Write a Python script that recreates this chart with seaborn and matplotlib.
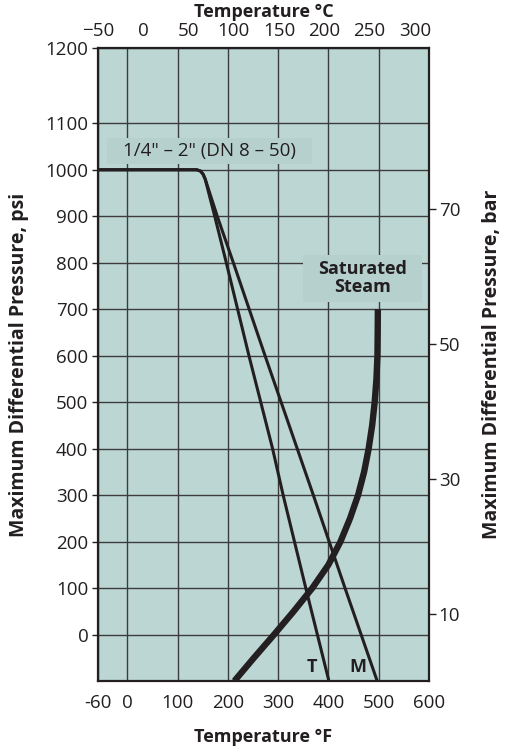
import numpy as np
import pandas as pd
import matplotlib.pyplot as plt
import seaborn as sns
from matplotlib.patches import Rectangle

# axis ticks
temp_f_ticks = [0, 100, 200, 300, 400, 500, 600]
temp_c_ticks = [-50, 0, 50, 100, 150, 200, 250, 300]
psi_ticks = [0, 100, 200, 300, 400, 500, 600, 700, 800, 900, 1000, 1100]
bar_ticks = [10, 30, 50, 70]

# T rating line (deg F, psi)
t_temp = [-58, 138, 146, 151, 155, 174, 197, 242, 289, 310, 355, 378, 401]
t_psi = [1000, 1000, 997, 990, 980, 900, 800, 600, 400, 300, 100, 0, -100]

# M rating line
m_temp = [-58, 138, 146, 151, 155, 179, 211, 274, 338, 370, 433, 465, 497]
m_psi = [1000, 1000, 997, 990, 980, 900, 800, 600, 400, 300, 100, 0, -100]

# saturated steam curve
steam_temp = [213, 252, 292, 331, 368, 400, 424, 443, 459, 471, 480, 487, 492,
              495.5, 497.5, 498, 498.3]
steam_psi = [-100, -50, 0, 50, 100, 150, 200, 250, 300, 350, 400, 450, 500,
             550, 600, 650, 700]

sns.set_theme(style="ticks")
plt.rcParams["font.family"] = ["Open Sans", "DejaVu Sans"]

ink = "#231f20"
box_fc = "#b6d0ce"
fig = plt.figure(figsize=(5.08, 7.46), dpi=100)
fig.subplots_adjust(left=0.193, right=0.8445, bottom=0.0871, top=0.9357)
ax = fig.add_subplot(111)
ax.set_facecolor("#bcd6d4")

sns.lineplot(x=t_temp, y=t_psi, ax=ax, color=ink, lw=2.2, sort=False, estimator=None)
sns.lineplot(x=m_temp, y=m_psi, ax=ax, color=ink, lw=2.2, sort=False, estimator=None)
sns.lineplot(x=steam_temp, y=steam_psi, ax=ax, color=ink, lw=4.6, sort=False,
             estimator=None, solid_capstyle="butt")

ax.set_xlim(-58, 600)
ax.set_ylim(-100, 1262)

ax.set_xticks([-58] + temp_f_ticks)
ax.set_xticklabels(["-60"] + [str(v) for v in temp_f_ticks])
ax.set_yticks(psi_ticks + [1262])
ax.set_yticklabels([str(v) for v in psi_ticks] + ["1200"])

ax.grid(True, color="#3c3c3c", lw=1.0)
ax.set_axisbelow(True)
for s in ax.spines.values():
    s.set_color(ink)
    s.set_linewidth(1.6)

ax.tick_params(axis="x", length=0, labelsize=13.5, pad=9, colors=ink)
ax.tick_params(axis="y", length=4, width=1, labelsize=13.5, pad=3, colors=ink)
ax.set_xlabel("Temperature °F", fontsize=13, fontweight="bold", labelpad=12, color=ink)
ax.set_ylabel("Maximum Differential Pressure, psi", fontsize=14, fontweight="bold",
              labelpad=12, color=ink)

top = ax.secondary_xaxis("top", functions=(lambda f: (f - 32) * 5 / 9,
                                           lambda c: c * 9 / 5 + 32))
top.set_xticks(temp_c_ticks)
top.tick_params(length=0, labelsize=13.5, pad=6, colors=ink)
top.set_xlabel("Temperature °C", fontsize=13, fontweight="bold", labelpad=3, color=ink)

right = ax.secondary_yaxis("right", functions=(lambda p: (p + 100) / 14.5,
                                               lambda b: b * 14.5 - 100))
right.set_yticks(bar_ticks)
right.tick_params(length=5, width=1, labelsize=13.5, pad=2, colors=ink)
right.set_ylabel("Maximum Differential Pressure, bar", fontsize=14,
                 fontweight="bold", labelpad=16, color=ink)

ax.add_patch(Rectangle((0.027, 0.817), 0.62, 0.041, transform=ax.transAxes,
                       fc=box_fc, ec="none", zorder=1.5))
ax.text(0.337, 0.8375, '1/4" – 2" (DN 8 – 50)', transform=ax.transAxes,
        ha="center", va="center", fontsize=13.5, color=ink, zorder=3)
ax.add_patch(Rectangle((0.619, 0.599), 0.36, 0.074, transform=ax.transAxes,
                       fc=box_fc, ec="none", zorder=1.5))
ax.text(0.799, 0.636, "Saturated\nSteam", transform=ax.transAxes, ha="center",
        va="center", fontsize=13, fontweight="bold", color=ink, linespacing=1.0,
        zorder=3)
ax.text(368, -70, "T", ha="center", va="center", fontsize=13, fontweight="bold", color=ink)
ax.text(459, -70, "M", ha="center", va="center", fontsize=13, fontweight="bold", color=ink)

fig.savefig("out.png", dpi=100)
